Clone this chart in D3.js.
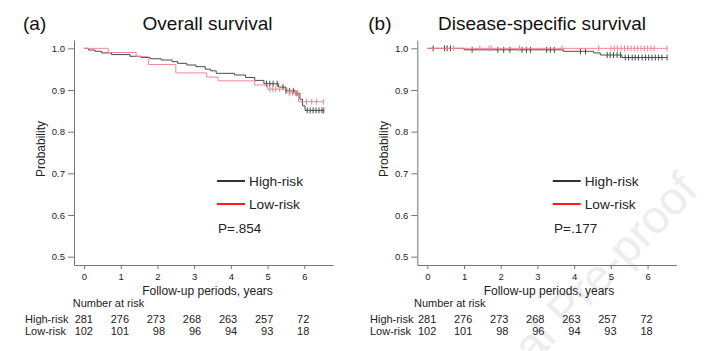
<!DOCTYPE html>
<html><head><meta charset="utf-8">
<script src="https://cdn.jsdelivr.net/npm/d3@7"></script>
<style>
body{margin:0;background:#fff}
svg{display:block;font-family:"Liberation Sans",Arial,Helvetica,sans-serif}
</style>
</head><body>
<svg id="c" width="720" height="351"></svg>
<script>
// ---------- data ----------
const years = [0, 1, 2, 3, 4, 5, 6];
const yTicks = [0.5, 0.6, 0.7, 0.8, 0.9, 1.0];
const groups = ["High-risk", "Low-risk"];
const atRiskHigh = [281, 276, 273, 268, 263, 257, 72];
const atRiskLow = [102, 101, 98, 96, 94, 93, 18];
const titles = ["Overall survival", "Disease-specific survival"];
const panelTags = ["(a)", "(b)"];
const pValues = ["P=.854", "P=.177"];

// Overall survival, high-risk
const osHighT = [0, 0.12, 0.3, 0.48, 0.75, 1.25, 1.55, 1.8, 2.1, 2.4, 2.55, 2.8, 3.05, 3.3, 3.45, 3.6, 4.1, 4.4, 4.65, 4.9, 5.3, 5.5, 5.75, 5.88, 5.95, 6.02];
const osHighS = [1.0, 0.996, 0.993, 0.989, 0.985, 0.981, 0.978, 0.975, 0.972, 0.968, 0.964, 0.960, 0.956, 0.950, 0.946, 0.940, 0.936, 0.930, 0.923, 0.915, 0.907, 0.898, 0.892, 0.878, 0.862, 0.851];
const osHighCens = [4.97, 5.06, 5.15, 5.26, 5.42, 5.5, 5.6, 5.7, 5.8, 6.08, 6.16, 6.24, 6.32, 6.4, 6.48, 6.53];
// Overall survival, low-risk
const osLowT = [0, 0.66, 1.42, 1.75, 2.5, 3.34, 3.65, 4.65, 5.0, 5.55, 5.84];
const osLowS = [1.0, 0.990, 0.980, 0.961, 0.941, 0.931, 0.922, 0.912, 0.902, 0.893, 0.872];
const osLowCens = [5.06, 5.14, 5.22, 5.33, 5.6, 5.68, 5.76, 5.82, 6.06, 6.2, 6.33, 6.52];
// Disease-specific survival, high-risk
const dssHighT = [0, 1.0, 3.71, 4.53, 4.71, 5.3];
const dssHighS = [1.0, 0.9964, 0.9929, 0.989, 0.984, 0.978];
const dssHighCens = [0.16, 0.47, 0.54, 0.63, 1.22, 1.92, 2.08, 2.25, 2.58, 2.7, 2.81, 3.25, 3.35, 3.46, 4.17, 4.31, 4.9, 4.98, 5.07, 5.17, 5.26, 5.39, 5.48, 5.58, 5.66, 5.75, 5.85, 5.94, 6.03, 6.12, 6.21, 6.3, 6.39, 6.53];
// Disease-specific survival, low-risk
const dssLowT = [0];
const dssLowS = [1.0];
const dssLowCens = [0.72, 1.43, 1.68, 1.74, 2.51, 3.67, 4.67, 5.0, 5.09, 5.18, 5.28, 5.37, 5.46, 5.55, 5.64, 5.73, 5.82, 5.91, 6.0, 6.09, 6.18, 6.53];

// ---------- layout ----------
const svg = d3.select("#c");
const font = '"Liberation Sans", Arial, sans-serif';
const colHigh = "#4a4a4a", colLow = "#f08694";
const legHigh = "#333", legLow = "#ff1a1a";

// watermark
svg.append("text")
  .attr("transform", "translate(700,192) rotate(-46)")
  .attr("text-anchor", "end")
  .attr("font-size", 46)
  .attr("fill", "#ededed")
  .text("Journal Pre-proof");

const panels = [
  { ox: 0, title: titles[0], tag: panelTags[0], p: pValues[0], titleX: 207.5, leg: 217, pX: 218, labX: 207.5,
    series: [
      { T: osHighT, S: osHighS, C: osHighCens, col: colHigh },
      { T: osLowT, S: osLowS, C: osLowCens, col: colLow }
    ] },
  { ox: 343.3, title: titles[1], tag: panelTags[1], p: pValues[1], titleX: 542, leg: 552.7, pX: 554, labX: 549,
    series: [
      { T: dssHighT, S: dssHighS, C: dssHighCens, col: colHigh },
      { T: dssLowT, S: dssLowS, C: dssLowCens, col: colLow }
    ] }
];

panels.forEach((pn, pi) => {
  const g = svg.append("g");
  const axL = 74 + pn.ox;
  const x = d3.scaleLinear().domain([-0.2723, 6.781]).range([axL, axL + 259]);
  const y = d3.scaleLinear().domain([0.48, 1.02]).range([265, 40]);

  // axes
  const ya = g.append("g").attr("transform", `translate(${axL},0)`)
    .call(d3.axisLeft(y).tickValues(yTicks).tickFormat(d3.format(".1f")).tickSize(6).tickSizeOuter(0).tickPadding(3));
  const xa = g.append("g").attr("transform", `translate(0,265)`)
    .call(d3.axisBottom(x).tickValues(years).tickFormat(d3.format("d")).tickSize(4).tickSizeOuter(0).tickPadding(4));
  [ya, xa].forEach(a => {
    a.selectAll("path.domain").attr("stroke", "#777");
    a.selectAll(".tick line").attr("stroke", "#777");
    a.selectAll(".tick text").attr("font-size", 9.5).attr("font-family", font).attr("fill", "#222");
  });

  // curves
  pn.series.forEach(s => {
    const endT = Math.max(d3.max(s.C), d3.max(s.T));
    const pts = s.T.map((t, i) => [t, s.S[i]]);
    pts.push([endT, s.S[s.S.length - 1]]);
    g.append("path")
      .attr("d", d3.line().x(d => x(d[0])).y(d => y(d[1])).curve(d3.curveStepAfter)(pts))
      .attr("fill", "none").attr("stroke", s.col).attr("stroke-width", 1);
    const survAt = t => s.S[d3.bisectRight(s.T, t) - 1];
    g.selectAll(null).data(s.C).enter().append("line")
      .attr("x1", d => x(d)).attr("x2", d => x(d))
      .attr("y1", d => y(survAt(d)) - 3).attr("y2", d => y(survAt(d)) + 3)
      .attr("stroke", s.col).attr("stroke-width", 1);
  });

  // titles
  g.append("text").attr("x", 23 + pn.ox + (pi ? 2 : 0)).attr("y", 30).attr("font-size", 19).attr("fill", "#111").text(pn.tag);
  g.append("text").attr("x", pn.titleX).attr("y", 30).attr("text-anchor", "middle").attr("font-size", 19).attr("fill", "#111").text(pn.title);

  // y label
  g.append("text").attr("transform", `translate(${axL - 29},149) rotate(-90)`)
    .attr("text-anchor", "middle").attr("font-size", 12).attr("fill", "#222").text("Probability");
  // x label
  g.append("text").attr("x", pn.labX).attr("y", 295).attr("text-anchor", "middle")
    .attr("font-size", 12).attr("fill", "#222").text("Follow-up periods, years");

  // legend
  const legCols = [legHigh, legLow];
  groups.forEach((name, i) => {
    const ly = 181 + i * 23;
    g.append("line").attr("x1", pn.leg).attr("x2", pn.leg + 28).attr("y1", ly).attr("y2", ly)
      .attr("stroke", legCols[i]).attr("stroke-width", 2);
    g.append("text").attr("x", pn.leg + 32).attr("y", ly + 5).attr("font-size", 13.7).attr("fill", "#222").text(name);
  });
  g.append("text").attr("x", pn.pX).attr("y", 233).attr("font-size", 13.5).attr("fill", "#222").text(pn.p);

  // number at risk
  g.append("text").attr("x", axL - 1.3 - (pi ? 2 : 0)).attr("y", 307).attr("font-size", 11).attr("fill", "#222").text("Number at risk");
  const x0 = x(0);
  [atRiskHigh, atRiskLow].forEach((row, i) => {
    const ry = 322.5 + i * 12.8;
    g.append("text").attr("x", 25 + pn.ox + (pi ? 1.7 : 0)).attr("y", ry).attr("font-size", 11).attr("fill", "#222").text(groups[i]);
    g.selectAll(null).data(row).enter().append("text")
      .attr("x", (d, j) => x0 + 9 + (x(years[j]) - x0) * 0.982).attr("y", ry)
      .attr("text-anchor", "end").attr("font-size", 11).attr("fill", "#222").text(d => d);
  });
});
</script>
</body></html>
